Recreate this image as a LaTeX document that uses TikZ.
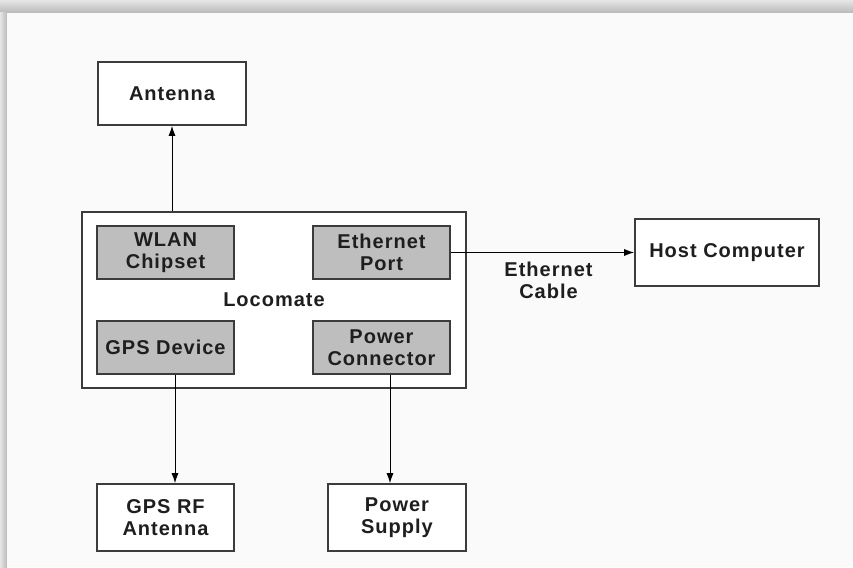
\documentclass[tikz,border=0pt]{standalone}
\usepackage{fontspec}
\setmainfont{Liberation Sans}[LetterSpace=5]
\usepackage{tikz}
\usetikzlibrary{arrows.meta,positioning,shapes}

\definecolor{boxline}{HTML}{3C3C3C}
\definecolor{partfill}{HTML}{BEBEBE}
\definecolor{txt}{HTML}{1E1E1E}

\begin{document}
\begin{tikzpicture}
[x=1pt, y=-1pt, >={Latex[length=10pt,width=7pt]},
every node/.style={font=\fontsize{20}{22}\selectfont\bfseries, text=txt, align=center},
unit/.style={draw=boxline, line width=1.6pt, fill=white, inner sep=0pt},
part/.style={unit, fill=partfill, minimum width=137pt, minimum height=53pt},
link/.style={->, draw=black, line width=1pt}
]
  \useasboundingbox (0,0) rectangle (853,567);
  % page shadow
  \shade[top color=gray!20, bottom color=gray!55, draw=none] (0,0) rectangle (853,13);
  \shade[left color=gray!20, right color=gray!55, draw=none] (0,13) rectangle (7,567);
  \fill[white!98!black] (7,13) rectangle (853,567);

  \node[unit, minimum width=384pt, minimum height=176pt] (loco) at (274,300) {Locomate};
  \node[part] (wlan)  at (165.5,252.5) {WLAN\\Chipset};
  \node[part] (eport) at (381.5,252.5) {Ethernet\\Port};
  \node[part] (gps)   at (165.5,347.5) {GPS Device};
  \node[part] (pconn) at (381.5,347.5) {Power\\Connector};

  \node[unit, minimum width=148pt, minimum height=63pt] (antenna) at (172,93.5)  {Antenna};
  \node[unit, minimum width=184pt, minimum height=67pt] (host)    at (727,252.5) {Host Computer};
  \node[unit, minimum width=137pt, minimum height=67pt] (gpsrf)   at (165.5,517.5) {GPS RF\\Antenna};
  \node[unit, minimum width=138pt, minimum height=67pt] (psupply) at (397,517.5) {Power\\Supply};

  \path (loco.north -| antenna.south) edge[link] (antenna.south)
        (eport.east) edge[link] node[below=6pt, xshift=6pt] (cable) {Ethernet\\Cable} (host.west)
        ([xshift=9.5pt]gps.south) edge[link] ([xshift=9.5pt]gps.south |- gpsrf.north)
        ([xshift=8.5pt]pconn.south) edge[link] ([xshift=8.5pt]pconn.south |- psupply.north);
\end{tikzpicture}
\end{document}
